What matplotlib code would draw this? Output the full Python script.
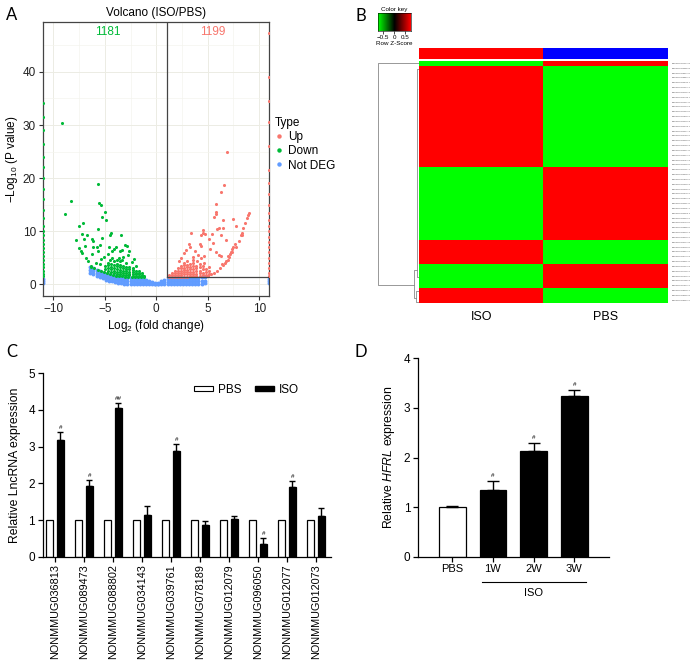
import numpy as np
import matplotlib
matplotlib.use("Agg")
import matplotlib.pyplot as plt
import matplotlib.transforms as mtrans
from matplotlib.colors import LinearSegmentedColormap, ListedColormap
from matplotlib.patches import Patch
from matplotlib.lines import Line2D

plt.rcParams['font.family'] = ['Liberation Sans', 'DejaVu Sans']
plt.rcParams['mathtext.fontset'] = 'custom'
plt.rcParams['mathtext.rm'] = 'Liberation Sans'
plt.rcParams['mathtext.it'] = 'Liberation Sans:italic'

# ---------------- data: panel A (volcano) ----------------
n_down, n_up = 1181, 1199
p_cut = 1.3   # -log10(0.05)
fc_cut = 1.0

down_pts = [(-9.19, 30.4), (-5.63, 18.8), (-8.32, 15.6), (-8.84, 13.2), (-5.6, 15.25), (-5.37, 15.0),
            (-4.98, 13.55), (-5.24, 12.7), (-4.88, 12.05), (-7.15, 11.6), (-7.5, 11.0), (-5.63, 10.4),
            (-4.4, 9.7), (-4.5, 9.35), (-7.18, 9.4), (-6.73, 9.35), (-7.02, 8.5), (-7.83, 8.3), (-6.2, 8.5),
            (-6.1, 8.2), (-5.24, 8.8), (-3.46, 9.2), (-7.46, 6.84), (-6.92, 7.15), (-6.1, 6.96), (-5.8, 7.1),
            (-5.5, 7.4), (-4.6, 7.1), (-4.1, 6.7), (-3.9, 7.1), (-3.0, 7.4), (-2.8, 7.2), (-7.2, 5.9),
            (-6.85, 5.0), (-6.2, 5.8), (-5.7, 6.2), (-5.1, 5.2), (-4.7, 5.7), (-4.25, 6.3), (-3.57, 6.2),
            (-2.6, 6.2), (-2.7, 5.5), (-6.36, 3.5), (-5.85, 4.0), (-5.4, 4.85), (-5.47, 3.8), (-4.45, 4.6),
            (-3.8, 4.5), (-3.2, 5.2), (-2.4, 4.2), (-7.35, 6.3), (-6.6, 4.3), (-3.3, 6.5), (-2.2, 4.8),
            # lower edge of the cloud
            (-6.3, 3.3), (-6.0, 3.0), (-5.7, 2.75), (-5.4, 2.55), (-5.1, 2.3), (-4.8, 2.1), (-4.5, 1.95),
            (-4.2, 1.8), (-3.9, 1.65), (-3.6, 1.55), (-3.3, 1.5), (-3.0, 1.45), (-2.7, 1.4), (-2.4, 1.38),
            (-2.1, 1.35), (-1.8, 1.33), (-1.5, 1.32), (-1.2, 1.31),
            # dense part
            (-5.0, 2.8), (-5.0, 3.4), (-4.7, 2.5), (-4.7, 3.0), (-4.7, 3.6), (-4.7, 4.1), (-4.4, 2.3),
            (-4.4, 2.8), (-4.4, 3.3), (-4.4, 3.9), (-4.1, 2.1), (-4.1, 2.6), (-4.1, 3.1), (-4.1, 3.6),
            (-4.1, 4.3), (-3.8, 2.0), (-3.8, 2.4), (-3.8, 2.9), (-3.8, 3.4), (-3.8, 3.9), (-3.5, 1.9),
            (-3.5, 2.3), (-3.5, 2.7), (-3.5, 3.2), (-3.5, 3.7), (-3.5, 4.3), (-3.2, 1.8), (-3.2, 2.2),
            (-3.2, 2.6), (-3.2, 3.0), (-3.2, 3.5), (-2.9, 1.75), (-2.9, 2.1), (-2.9, 2.5), (-2.9, 2.9),
            (-2.9, 3.3), (-2.6, 1.7), (-2.6, 2.0), (-2.6, 2.4), (-2.6, 2.8), (-2.6, 3.2), (-2.3, 1.65),
            (-2.3, 2.0), (-2.3, 2.3), (-2.3, 2.7), (-2.3, 3.1), (-2.0, 1.6), (-2.0, 1.9), (-2.0, 2.2),
            (-2.0, 2.5), (-2.0, 3.4), (-1.7, 1.6), (-1.7, 1.85), (-1.7, 2.1), (-1.7, 2.6), (-1.4, 1.55),
            (-1.4, 1.8), (-1.4, 2.1), (-1.2, 1.5), (-3.65, 5.0), (-2.95, 4.0), (-3.35, 4.6), (-4.25, 5.0)]
down_edge_y = [34.1, 31.5, 29.0, 26.5, 24.0, 22.0, 20.0, 18.0, 16.0, 14.0, 12.5, 11.0, 10.0, 9.2,
               8.4, 7.6, 6.8, 6.0, 5.3, 4.6, 3.9, 3.2, 2.6, 2.0, 1.5]

up_pts = [(6.86, 24.97), (6.6, 18.7), (6.25, 17.3), (5.8, 15.1), (5.77, 13.7), (5.64, 12.7), (5.77, 13.2),
          (6.5, 12.2), (7.44, 12.3), (9.0, 13.5), (8.93, 13.1), (8.8, 12.5), (8.6, 11.6), (7.7, 11.0),
          (8.44, 10.6), (8.31, 9.7), (8.25, 9.35), (6.47, 10.6), (5.92, 10.4), (6.08, 10.6), (4.55, 10.2),
          (4.5, 9.7), (4.3, 9.3), (4.75, 9.4), (3.4, 9.6), (5.37, 9.5), (6.3, 9.3), (5.08, 8.5), (5.47, 7.7),
          (6.78, 8.4), (7.6, 7.6), (7.5, 7.1), (7.4, 6.6), (7.27, 6.1), (7.15, 5.7), (7.0, 5.3), (4.28, 7.6),
          (4.37, 7.3), (3.2, 7.5), (3.3, 7.1), (2.9, 6.4), (5.85, 6.0), (6.08, 5.6), (6.27, 5.3), (6.7, 4.1),
          (6.95, 4.6), (6.4, 3.9), (2.45, 5.0), (2.7, 5.9), (4.05, 5.5), (4.6, 5.3), (4.3, 5.0), (3.8, 6.2),
          (5.2, 6.6), (3.55, 5.2), (2.2, 4.4),
          # curved right edge
          (5.0, 1.6), (5.3, 1.85), (5.6, 2.15), (5.9, 2.5), (6.2, 3.0), (6.5, 3.6), (6.8, 4.3), (7.1, 5.1),
          (7.4, 6.0), (7.7, 7.0), (8.0, 8.1), (8.3, 9.3),
          # dense part
          (1.2, 1.4), (1.2, 1.7), (1.5, 1.4), (1.5, 1.75), (1.5, 2.1), (1.8, 1.4), (1.8, 1.8), (1.8, 2.2),
          (1.8, 2.6), (2.1, 1.4), (2.1, 1.8), (2.1, 2.2), (2.1, 2.6), (2.1, 3.0), (2.4, 1.4), (2.4, 1.8),
          (2.4, 2.2), (2.4, 2.6), (2.4, 3.0), (2.4, 3.5), (2.7, 1.45), (2.7, 1.85), (2.7, 2.25), (2.7, 2.7),
          (2.7, 3.1), (2.7, 3.6), (2.7, 4.1), (3.0, 1.45), (3.0, 1.85), (3.0, 2.3), (3.0, 2.7), (3.0, 3.2),
          (3.0, 3.7), (3.0, 4.3), (3.3, 1.5), (3.3, 1.9), (3.3, 2.35), (3.3, 2.8), (3.3, 3.3), (3.3, 3.9),
          (3.6, 1.5), (3.6, 1.95), (3.6, 2.4), (3.6, 2.9), (3.6, 3.4), (3.6, 4.0), (3.6, 4.6), (3.9, 1.55),
          (3.9, 2.0), (3.9, 2.5), (3.9, 3.0), (3.9, 3.5), (4.2, 1.6), (4.2, 2.1), (4.2, 2.6), (4.2, 3.2),
          (4.2, 3.8), (4.5, 1.7), (4.5, 2.2), (4.5, 2.8), (4.5, 3.4), (4.8, 1.8), (4.8, 2.3), (4.8, 2.9),
          (5.1, 2.0), (5.1, 2.5), (5.1, 3.2), (4.0, 4.3), (4.6, 4.1)]
up_edge_y = [47.3, 39.1, 34.5, 30.5, 26.0, 21.6, 19.0, 17.0, 15.0, 13.5, 12.2, 11.0, 10.0, 9.0, 8.0,
             7.0, 6.0, 5.0, 4.0, 3.0, 2.2, 1.5]

nd_x = [-6.4, -6.1, -5.8, -5.5, -5.2, -4.9, -4.6, -4.3, -4.0, -3.7, -3.4, -3.1, -2.8, -2.5, -2.2, -1.9,
        -1.6, -1.3, -1.0, -0.7, -0.4, -0.1, 0.2, 0.5, 0.8, 1.1, 1.4, 1.7, 2.0, 2.3, 2.6, 2.9, 3.2, 3.5,
        3.8, 4.1, 4.4, 4.7]
nd_top = [3.3, 3.0, 2.7, 2.45, 2.2, 2.0, 1.8, 1.65, 1.5, 1.4, 1.3, 1.25, 1.2, 1.15, 1.1, 1.05, 1.0, 0.95,
          0.85, 0.65, 0.45, 0.2, 0.3, 0.55, 0.8, 1.0, 1.1, 1.15, 1.2, 1.2, 1.2, 1.2, 1.2, 1.2, 1.2, 1.25,
          1.3, 1.3]
nd_mid = [2.75, 2.45, 2.15, 1.9, 1.65, 1.45, 1.25, 1.1, 0.95, 0.85, 0.75, 0.7, 0.65, 0.6, 0.55, 0.5,
          0.5, 0.45, 0.4, 0.3, 0.2, 0.1, 0.15, 0.3, 0.4, 0.5, 0.55, 0.6, 0.6, 0.6, 0.6, 0.6, 0.6, 0.6,
          0.65, 0.65, 0.7, 0.7]
nd_low = [2.2, 1.9, 1.6, 1.35, 1.1, 0.9, 0.7, 0.55, 0.4, 0.3, 0.2, 0.15, 0.1, 0.05, 0.03, 0.03, 0.03,
          0.03, 0.03, 0.03, 0.02, 0.0, 0.02, 0.03, 0.03, 0.03, 0.03, 0.03, 0.03, 0.03, 0.03, 0.03, 0.05,
          0.05, 0.08, 0.1, 0.15, 0.2]
nd_edge_y = [0.2, 0.6, 1.0]

# ---------------- data: panel B (heatmap) ----------------
heat_cols = ['ISO', 'PBS']
block_rows = [1, 21, 15, 5, 5, 3]
block_iso = [-0.707, 0.707, -0.707, 0.707, -0.707, 0.707]
row_names = ['NONMMUG012073.2', 'NONMMUG036813.2', 'NONMMUG089473.1', 'NONMMUG088802.1', 'NONMMUG039761.1',
             'NONMMUG012077.1', 'NONMMUG004512.2', 'NONMMUG007781.1', 'NONMMUG010334.1', 'NONMMUG014276.2',
             'NONMMUG015908.1', 'NONMMUG018462.1', 'NONMMUG020155.3', 'NONMMUG022731.1', 'NONMMUG025047.2',
             'NONMMUG027619.1', 'NONMMUG030388.1', 'NONMMUG031926.2', 'NONMMUG033504.1', 'NONMMUG035172.1',
             'NONMMUG037840.2', 'NONMMUG040213.1', 'NONMMUG041597.1', 'NONMMUG096050.1', 'NONMMUG078189.1',
             'NONMMUG043386.2', 'NONMMUG045019.1', 'NONMMUG046752.1', 'NONMMUG048230.2', 'NONMMUG050614.1',
             'NONMMUG052087.1', 'NONMMUG053941.2', 'NONMMUG055376.1', 'NONMMUG057208.1', 'NONMMUG058863.1',
             'NONMMUG060427.2', 'NONMMUG062195.1', 'NONMMUG034143.2', 'NONMMUG064518.1', 'NONMMUG066072.1',
             'NONMMUG067739.2', 'NONMMUG069384.1', 'NONMMUG012079.2', 'NONMMUG071526.1', 'NONMMUG073190.1',
             'NONMMUG074865.2', 'NONMMUG076402.1', 'NONMMUG080257.1', 'NONMMUG082913.2', 'NONMMUG085640.1']
# dendrogram links: (height, row_a, row_b, child_height_a, child_height_b)
dend_links = [(1.00, 0.0, 45.9, 0.0, 0.12),
              (0.12, 42.8, 48.6, 0.05, 0.08),
              (0.05, 1.2, 44.2, 0.0, 0.0),
              (0.08, 47.0, 49.3, 0.0, 0.0)]

# ---------------- data: panel C ----------------
lnc_names = ['NONMMUG036813', 'NONMMUG089473', 'NONMMUG088802', 'NONMMUG034143', 'NONMMUG039761',
             'NONMMUG078189', 'NONMMUG012079', 'NONMMUG096050', 'NONMMUG012077', 'NONMMUG012073']
pbs_c = [1, 1, 1, 1, 1, 1, 1, 1, 1, 1]
iso_c = [3.19, 1.92, 4.05, 1.13, 2.88, 0.86, 1.04, 0.35, 1.90, 1.12]
iso_c_err = [0.21, 0.17, 0.13, 0.25, 0.18, 0.11, 0.08, 0.15, 0.16, 0.21]
sig_c = ['#', '#', '##', '', '#', '', '', '#', '#', '']

# ---------------- data: panel D ----------------
hfrl_groups = ['PBS', '1W', '2W', '3W']
hfrl_mean = [1.0, 1.34, 2.14, 3.23]
hfrl_err = [0.02, 0.19, 0.16, 0.13]
sig_d = ['', '#', '#', '#']

W, H = 695, 669
fig = plt.figure(figsize=(W / 100, H / 100), dpi=100)


def box(l, t, r, b):
    return [l / W, 1 - b / H, (r - l) / W, (b - t) / H]


def letter(x, y, s):
    fig.text(x / W, 1 - y / H, s, fontsize=12, family='Lato', ha='left', va='top')


# ---------------- A: volcano ----------------
ax = fig.add_axes(box(43, 22, 269, 296))
red, green, blue = '#F8766D', '#00BA38', '#619CFF'
ax.set_xlim(-11.0, 10.95)
ax.set_ylim(-2.2, 49.4)
ax.set_xticks([-10, -5, 0, 5, 10])
ax.set_xticks([-7.5, -2.5, 2.5, 7.5], minor=True)
ax.set_yticks([0, 10, 20, 30, 40])
ax.set_yticks([5, 15, 25, 35, 45], minor=True)
ax.set_xticklabels(['\u221210', '\u22125', '0', '5', '10'])
ax.grid(True, which='major', color='#ECECE4', lw=0.7)
ax.grid(True, which='minor', color='#F4F4EE', lw=0.5)
ax.set_axisbelow(True)
ax.tick_params(which='minor', length=0)
ax.tick_params(which='major', length=3, color='#333333', labelsize=8.5, pad=2, labelcolor='#222222')
for sp in ax.spines.values():
    sp.set_color('#444444')
    sp.set_linewidth(0.9)

nd_xs = np.concatenate([nd_x, nd_x, nd_x, [-11.0] * 3, [10.95] * 3])
nd_ys = np.concatenate([nd_top, nd_mid, nd_low, nd_edge_y, nd_edge_y])
ax.scatter(nd_xs, nd_ys, s=8, color=blue, lw=0, zorder=2)
dp = np.array(down_pts)
ax.scatter(dp[:, 0], dp[:, 1], s=5, color=green, lw=0, zorder=3)
ax.scatter([-11.0] * len(down_edge_y), down_edge_y, s=5, color=green, lw=0, zorder=3)
upp = np.array(up_pts)
ax.scatter(upp[:, 0], upp[:, 1], s=5, color=red, lw=0, zorder=3)
ax.scatter([10.95] * len(up_edge_y), up_edge_y, s=5, color=red, lw=0, zorder=3)

ax.plot([fc_cut, fc_cut], [p_cut, 49.4], color='#444444', lw=0.9, zorder=4)
ax.plot([fc_cut, 10.95], [p_cut, p_cut], color='#444444', lw=0.9, zorder=4)
ax.text(-4.7, 47.6, str(n_down), color=green, fontsize=8.5, ha='center', va='center')
ax.text(5.5, 47.6, str(n_up), color=red, fontsize=8.5, ha='center', va='center')
ax.set_title('Volcano (ISO/PBS)', fontsize=8.5, pad=4)
ax.set_xlabel('Log$_2$ (fold change)', fontsize=8.5, labelpad=2)
ax.set_ylabel('\u2212Log$_{10}$ (P value)', fontsize=8.5, labelpad=2)
handles = [Line2D([], [], marker='o', ls='', color=c, ms=3.2, mew=0) for c in (red, green, blue)]
ax.legend(handles, ['Up', 'Down', 'Not DEG'], title='Type', loc='upper left',
          bbox_to_anchor=(1.025, 0.655), frameon=False, fontsize=8.5, title_fontsize=8.5,
          handlelength=0.8, handletextpad=0.3, labelspacing=0.2, borderpad=0, borderaxespad=0,
          alignment='left')
letter(6, 7, 'A')

# ---------------- B: heatmap ----------------
iso_z = np.repeat(block_iso, block_rows)
Z = np.column_stack([iso_z, -iso_z])
gkr = LinearSegmentedColormap.from_list('gkr', ['#00FF00', '#000000', '#FF0000'])
axh = fig.add_axes(box(419, 61, 668, 302.7))
axh.imshow(Z, cmap=gkr, vmin=-0.7, vmax=0.7, aspect='auto', interpolation='nearest')
axh.set_xticks([0, 1])
axh.set_xticklabels(heat_cols, fontsize=9)
axh.set_yticks(np.arange(len(row_names)))
axh.set_yticklabels(row_names, fontsize=1.45, color='#555555')
axh.yaxis.tick_right()
axh.tick_params(length=0, pad=2.5)
axh.tick_params(axis='x', pad=6)
for sp in axh.spines.values():
    sp.set_visible(False)

axcb = fig.add_axes(box(419, 47.7, 668, 59.3))
axcb.imshow([[0, 1]], cmap=ListedColormap(['#FF0000', '#0000FF']), aspect='auto', interpolation='nearest')
axcb.axis('off')

axk = fig.add_axes(box(378, 13.3, 410.7, 30.7))
axk.imshow(np.linspace(-0.74, 0.74, 200).reshape(1, -1), cmap=gkr, vmin=-0.74, vmax=0.74,
           aspect='auto', extent=[-0.74, 0.74, 0, 1])
axk.set_xticks([-0.5, 0, 0.5])
axk.set_xticklabels(['\u22120.5', '0', '0.5'])
axk.set_yticks([])
axk.tick_params(labelsize=4.5, length=2, width=0.5, pad=1)
axk.set_title('Color key', fontsize=4.5, pad=2)
axk.set_xlabel('Row Z-Score', fontsize=4.5, labelpad=1)
for sp in axk.spines.values():
    sp.set_linewidth(0.4)

axd_ = fig.add_axes(box(376, 61, 419, 302.7))
axd_.set_xlim(1.05, 0)
axd_.set_ylim(len(row_names) - 0.5, -0.5)
for h, ra, rb, ha, hb in dend_links:
    axd_.plot([ha, h, h, hb], [ra, ra, rb, rb], color='#888888', lw=0.6)
axd_.axis('off')
letter(356, 8, 'B')

# ---------------- C: lncRNA bars ----------------
axc = fig.add_axes(box(42.7, 373.3, 331, 556.7))
xc = np.arange(len(lnc_names))
axc.bar(xc - 0.19, pbs_c, 0.24, color='white', edgecolor='black', lw=0.9)
axc.bar(xc + 0.19, iso_c, 0.24, color='black', edgecolor='black', lw=0.9)
axc.errorbar(xc + 0.19, iso_c, yerr=[np.zeros(len(iso_c)), iso_c_err], fmt='none', ecolor='black',
             elinewidth=1, capsize=2.3, capthick=1)
for i, s in enumerate(sig_c):
    if s:
        axc.text(xc[i] + 0.19, iso_c[i] + iso_c_err[i] + 0.06, s, fontsize=4.5, ha='center', va='bottom')
axc.set_xlim(-0.42, 9.52)
axc.set_ylim(0, 5)
axc.set_xticks(xc)
axc.set_xticklabels(lnc_names, rotation=90, fontsize=7.8)
axc.set_yticks(range(6))
axc.tick_params(labelsize=8.5, length=3.5, width=0.9, pad=2)
axc.tick_params(axis='x', labelsize=7.8)
for sp in ('top', 'right'):
    axc.spines[sp].set_visible(False)
for sp in ('left', 'bottom'):
    axc.spines[sp].set_linewidth(0.9)
axc.set_ylabel('Relative LncRNA expression', fontsize=8.8, labelpad=5)
axc.legend([Patch(facecolor='white', edgecolor='black', lw=0.8), Patch(facecolor='black', edgecolor='black')],
           ['PBS', 'ISO'], loc='center left', bbox_to_anchor=(0.525, 0.91), ncol=2, frameon=False,
           fontsize=8.5, handlelength=1.6, handleheight=0.35, handletextpad=0.45, columnspacing=1.1,
           borderpad=0, borderaxespad=0)
letter(6, 344, 'C')

# ---------------- D: HFRL bars ----------------
axd = fig.add_axes(box(418, 358.3, 609, 556.7))
xd = np.arange(len(hfrl_groups))
axd.bar(xd, hfrl_mean, 0.655, color=['white', 'black', 'black', 'black'], edgecolor='black', lw=0.9)
axd.errorbar(xd, hfrl_mean, yerr=[np.zeros(len(hfrl_mean)), hfrl_err], fmt='none', ecolor='black',
             elinewidth=1, capsize=4.6, capthick=1)
for i, s in enumerate(sig_d):
    if s:
        axd.text(xd[i], hfrl_mean[i] + hfrl_err[i] + 0.06, s, fontsize=4.5, ha='center', va='bottom')
axd.set_xlim(-0.84, 3.85)
axd.set_ylim(0, 4)
axd.set_xticks(xd)
axd.set_xticklabels(hfrl_groups, fontsize=8)
axd.set_yticks(range(5))
axd.tick_params(labelsize=8.5, length=3.5, width=0.9, pad=2)
axd.tick_params(axis='x', labelsize=8)
for sp in ('top', 'right'):
    axd.spines[sp].set_visible(False)
for sp in ('left', 'bottom'):
    axd.spines[sp].set_linewidth(0.9)
axd.set_ylabel('Relative $\\it{HFRL}$ expression', fontsize=8.8, labelpad=5)
trans = mtrans.blended_transform_factory(axd.transData, axd.transAxes)
axd.plot([0.73, 3.28], [-0.129, -0.129], color='black', lw=0.8, transform=trans, clip_on=False)
axd.text(2.0, -0.185, 'ISO', fontsize=8, ha='center', va='center', transform=trans)
letter(354, 344, 'D')

fig.savefig('out.png', dpi=100)
